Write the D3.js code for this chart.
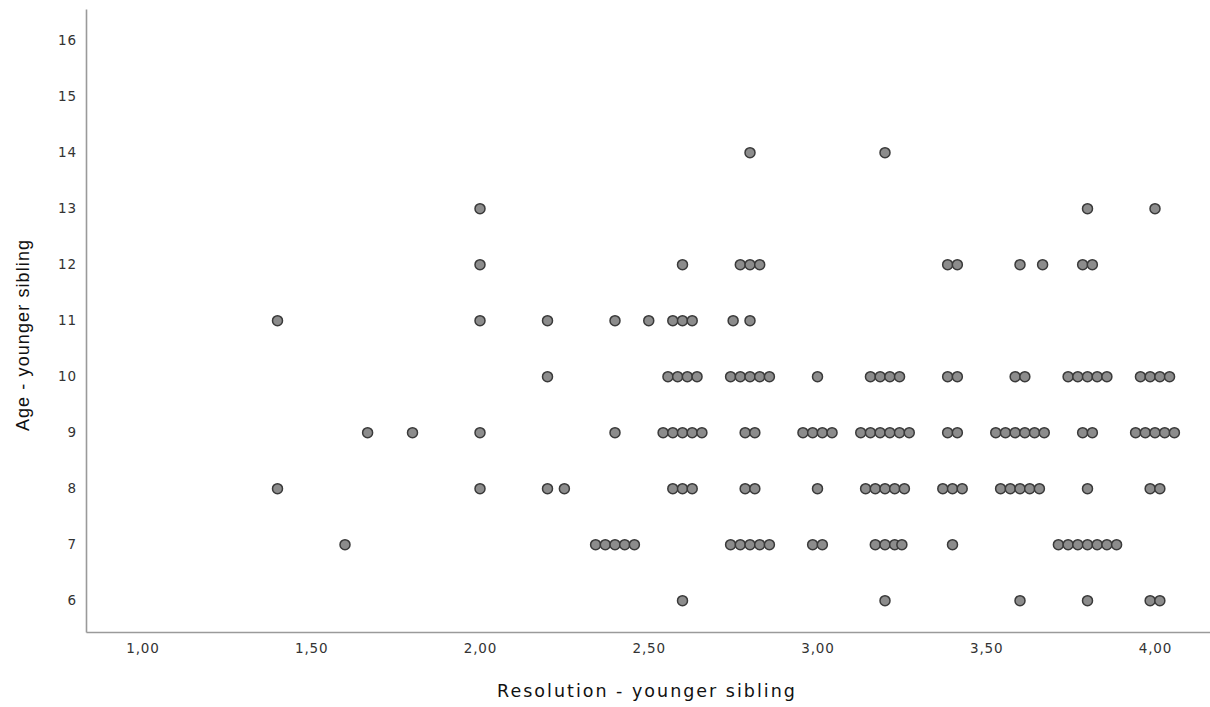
<!DOCTYPE html>
<html>
<head>
<meta charset="utf-8">
<script src="https://cdn.jsdelivr.net/npm/d3@7"></script>
<style>
  html, body { margin: 0; padding: 0; background: #fff; }
  svg { display: block; }
</style>
</head>
<body>
<div id="chart"></div>
<script>
// Scatter of age vs resolution score, younger sibling.
// Each row lists [resolution, number of cases] for one age.

var age6  = [[2.60, 1], [3.20, 1], [3.60, 1], [3.80, 1], [4.00, 2]];
var age7  = [[1.60, 1], [2.40, 5], [2.80, 5], [3.00, 2], [3.20, 3], [3.25, 1], [3.40, 1], [3.80, 7]];
var age8  = [[1.40, 1], [2.00, 1], [2.20, 1], [2.25, 1], [2.60, 3], [2.80, 2], [3.00, 1], [3.20, 5],
             [3.40, 3], [3.60, 5], [3.80, 1], [4.00, 2]];
var age9  = [[1.667, 1], [1.80, 1], [2.00, 1], [2.40, 1], [2.60, 5], [2.80, 2], [3.00, 4], [3.20, 6],
             [3.40, 2], [3.60, 6], [3.80, 2], [4.00, 5]];
var age10 = [[2.20, 1], [2.60, 4], [2.80, 5], [3.00, 1], [3.20, 4], [3.40, 2], [3.60, 2], [3.80, 5], [4.00, 4]];
var age11 = [[1.40, 1], [2.00, 1], [2.20, 1], [2.40, 1], [2.50, 1], [2.60, 3], [2.75, 1], [2.80, 1]];
var age12 = [[2.00, 1], [2.60, 1], [2.80, 3], [3.40, 2], [3.60, 1], [3.667, 1], [3.80, 2]];
var age13 = [[2.00, 1], [3.80, 1], [4.00, 1]];
var age14 = [[2.80, 1], [3.20, 1]];

var ages = [6, 7, 8, 9, 10, 11, 12, 13, 14];
var rows = [age6, age7, age8, age9, age10, age11, age12, age13, age14];

var xTicks = [1.00, 1.50, 2.00, 2.50, 3.00, 3.50, 4.00];
var yTicks = [6, 7, 8, 9, 10, 11, 12, 13, 14, 15, 16];

var xTitle = 'Resolution - younger sibling';
var yTitle = 'Age - younger sibling';

var width = 1210, height = 707;
var axisLeftX = 86, axisBottomY = 632, axisTopY = 9;
var dotR = 5, dotStep = 9.7;

var svg = d3.select('#chart').append('svg')
    .attr('width', width)
    .attr('height', height);

// 1,00 sits at 142.5px and one unit is 337.5px wide
var xScale = d3.scaleLinear()
    .domain([1 - (142.5 - axisLeftX) / 337.5, 1 + (width - 142.5) / 337.5])
    .range([axisLeftX, width]);

var yScale = d3.scaleLinear()
    .domain([5.44, 5.44 + (axisBottomY - axisTopY) / 56])
    .range([axisBottomY, axisTopY]);

function commaFmt(d) { return d3.format('.2f')(d).replace('.', ','); }

// X axis
svg.append('g')
    .attr('transform', 'translate(0,' + axisBottomY + ')')
    .call(d3.axisBottom(xScale).tickValues(xTicks).tickSize(0).tickPadding(11).tickFormat(commaFmt));

// Y axis
svg.append('g')
    .attr('transform', 'translate(' + axisLeftX + ',0)')
    .call(d3.axisLeft(yScale).tickValues(yTicks).tickSize(0).tickPadding(9).tickFormat(d3.format('d')));

svg.selectAll('.domain')
    .attr('stroke', '#9a9a9a')
    .attr('stroke-width', 1.6);

svg.selectAll('.tick text')
    .attr('fill', '#333')
    .attr('font-family', '"DejaVu Sans", Verdana, sans-serif')
    .attr('font-size', '13.5px')
    .style('letter-spacing', '0.9px');

// Points: coinciding cases are stacked side by side around the value
var points = [];
rows.forEach(function (row, i) {
    row.forEach(function (r) {
        for (var k = 0; k < r[1]; k++) {
            points.push({ x: r[0], y: ages[i], off: (k - (r[1] - 1) / 2) * dotStep });
        }
    });
});

svg.append('g').selectAll('circle')
    .data(points)
    .join('circle')
    .attr('cx', function (d) { return xScale(d.x) + d.off; })
    .attr('cy', function (d) { return yScale(d.y); })
    .attr('r', dotR)
    .attr('fill', '#8c8c8c')
    .attr('stroke', '#3a3a3a')
    .attr('stroke-width', 1.5);

// Axis titles
svg.append('text')
    .attr('x', 647)
    .attr('y', 697)
    .attr('text-anchor', 'middle')
    .attr('fill', '#111')
    .attr('font-family', '"DejaVu Sans", Verdana, sans-serif')
    .attr('font-size', '17.5px')
    .style('letter-spacing', '2px')
    .text(xTitle);

svg.append('text')
    .attr('transform', 'translate(29,335) rotate(-90)')
    .attr('text-anchor', 'middle')
    .attr('fill', '#111')
    .attr('font-family', '"Liberation Sans", Arial, sans-serif')
    .attr('font-size', '18px')
    .style('letter-spacing', '1.1px')
    .text(yTitle);
</script>
</body>
</html>
